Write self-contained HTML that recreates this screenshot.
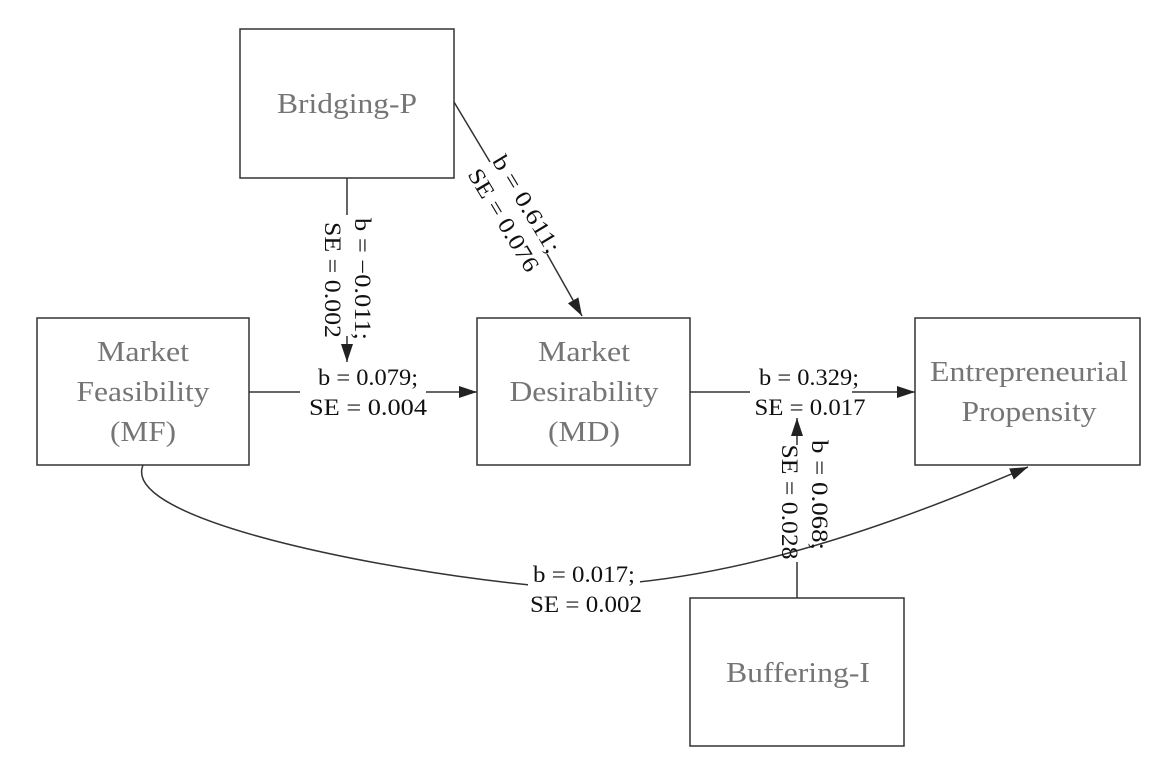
<!DOCTYPE html>
<html><head><style>body{margin:0;background:#fff}svg{display:block}svg text{font-family:"Liberation Serif",serif}</style></head><body>
<svg width="1164" height="769" xmlns="http://www.w3.org/2000/svg">
<defs>
<marker id="b" viewBox="0 0 18 12" markerWidth="18" markerHeight="12" refX="18" refY="6" orient="auto" markerUnits="userSpaceOnUse"><path d="M0,0 L18,6 L0,12 z" fill="#222"/></marker></defs>
<g fill="none" stroke="#333" stroke-width="1.5">
<rect x="240" y="29" width="214" height="149"/>
<rect x="37" y="318" width="212" height="147"/>
<rect x="477" y="318" width="213" height="147"/>
<rect x="915" y="318" width="225" height="147"/>
<rect x="690" y="598" width="214" height="148"/>
<path d="M143,465 C120,520 380,570 530,585 C700,595 880,530 1028,467" marker-end="url(#b)"/>
<path d="M347,178 V215"/><path d="M347,336 V362" marker-end="url(#b)"/>
<path d="M249,392 H300"/><path d="M426,392 H477" marker-end="url(#b)"/>
<path d="M454,102 L490,162"/><path d="M547,254 L582,316" marker-end="url(#b)"/>
<path d="M690,392 H750"/><path d="M852,392 H915" marker-end="url(#b)"/>
<path d="M797,598 V562"/><path d="M797,445 V418" marker-end="url(#b)"/>
</g>
<rect x="528" y="562" width="112" height="56" fill="#fff"/>
<g fill="#757575" font-size="29" text-anchor="middle">
<text x="347" y="113" textLength="140" lengthAdjust="spacingAndGlyphs">Bridging-P</text>
<text x="143" y="361" textLength="92" lengthAdjust="spacingAndGlyphs">Market</text><text x="143" y="401" textLength="133" lengthAdjust="spacingAndGlyphs">Feasibility</text><text x="143" y="441" textLength="66" lengthAdjust="spacingAndGlyphs">(MF)</text>
<text x="584" y="361" textLength="92" lengthAdjust="spacingAndGlyphs">Market</text><text x="584" y="401" textLength="149" lengthAdjust="spacingAndGlyphs">Desirability</text><text x="584" y="441" textLength="72" lengthAdjust="spacingAndGlyphs">(MD)</text>
<text x="1029" y="381" textLength="198" lengthAdjust="spacingAndGlyphs">Entrepreneurial</text><text x="1029" y="421" textLength="135" lengthAdjust="spacingAndGlyphs">Propensity</text>
<text x="798" y="682" textLength="144" lengthAdjust="spacingAndGlyphs">Buffering-I</text>
</g>
<g fill="#111" font-size="23" text-anchor="middle">
<text x="368" y="385" textLength="100" lengthAdjust="spacingAndGlyphs">b = 0.079;</text><text x="368" y="415" textLength="118" lengthAdjust="spacingAndGlyphs">SE = 0.004</text>
<text x="809" y="385" textLength="100" lengthAdjust="spacingAndGlyphs">b = 0.329;</text><text x="810" y="415" textLength="111" lengthAdjust="spacingAndGlyphs">SE = 0.017</text>
<text x="584" y="582" textLength="102" lengthAdjust="spacingAndGlyphs">b = 0.017;</text><text x="586" y="612" textLength="112" lengthAdjust="spacingAndGlyphs">SE = 0.002</text>
<text transform="translate(355,279) rotate(90)" textLength="122" lengthAdjust="spacingAndGlyphs">b = −0.011;</text>
<text transform="translate(325,280) rotate(90)" textLength="116" lengthAdjust="spacingAndGlyphs">SE = 0.002</text>
<text transform="translate(812,495) rotate(90)" textLength="110" lengthAdjust="spacingAndGlyphs">b = 0.068;</text>
<text transform="translate(782,502) rotate(90)" textLength="115" lengthAdjust="spacingAndGlyphs">SE = 0.028</text>
<text transform="translate(520,208) rotate(59)" textLength="110" lengthAdjust="spacingAndGlyphs">b = 0.611;</text>
<text transform="translate(497,224) rotate(59)" textLength="116" lengthAdjust="spacingAndGlyphs">SE = 0.076</text>
</g>
</svg>
</body></html>
